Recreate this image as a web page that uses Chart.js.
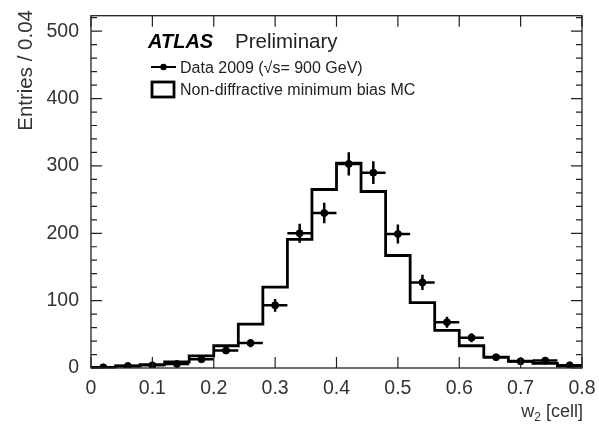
<!DOCTYPE html>
<html>
<head>
<meta charset="utf-8">
<script src="https://cdn.jsdelivr.net/npm/chart.js@4.4.1/dist/chart.umd.min.js"></script>
<style>
  body { margin: 0; background: #fff; }
  #wrap { width: 599px; height: 431px; }
</style>
</head>
<body>
<div id="wrap"><canvas id="chart" width="599" height="431"></canvas></div>
<script>
// bins of width 0.04 from 0 to 0.8
var binEdges = [0, 0.04, 0.08, 0.12, 0.16, 0.20, 0.24, 0.28, 0.32, 0.36, 0.40,
    0.44, 0.48, 0.52, 0.56, 0.60, 0.64, 0.68, 0.72, 0.76, 0.80];
var mcValues = [1, 3, 5, 9, 18, 33, 65, 120, 191, 265, 304,
    262, 167, 97, 56, 33, 16, 10, 7, 3];
var dataCenters = [0.02, 0.06, 0.10, 0.14, 0.18, 0.22, 0.26, 0.30, 0.34, 0.38,
    0.42, 0.46, 0.50, 0.54, 0.58, 0.62, 0.66, 0.70, 0.74, 0.78];
var dataValues = [1, 3, 4, 6, 13, 26, 37, 93, 200, 230,
    303, 290, 199, 127, 68, 45, 16, 10, 11, 4];
var dataErrors = [1, 1.7, 2, 2.4, 3.6, 5.1, 6.1, 9.6, 14.1, 15.2,
    17.4, 17.0, 14.1, 11.3, 8.2, 6.7, 4, 3.2, 3.3, 2];
var yTickLabels = [0, 100, 200, 300, 400, 500];
var xTickLabels = [0, 0.1, 0.2, 0.3, 0.4, 0.5, 0.6, 0.7, 0.8];

// histogram drawn as steps: each edge carries the value of the bin to its right
var mcPoints = binEdges.map(function (e, i) {
    return { x: e, y: i < mcValues.length ? mcValues[i] : mcValues[mcValues.length - 1] };
});
var dataPoints = dataCenters.map(function (c, i) {
    return { x: c, y: dataValues[i] };
});

var fontName = '"Liberation Sans", Arial, sans-serif';

var rootStyle = {
    id: 'rootStyle',
    afterDatasetsDraw: function (chart) {
        var ctx = chart.ctx;
        var xs = chart.scales.x, ys = chart.scales.y;
        var a = chart.chartArea;
        ctx.save();

        // error bars
        ctx.strokeStyle = '#000';
        ctx.lineWidth = 2.5;
        dataCenters.forEach(function (c, i) {
            var px = xs.getPixelForValue(c);
            var py = ys.getPixelForValue(dataValues[i]);
            ctx.beginPath();
            ctx.moveTo(xs.getPixelForValue(c - 0.02), py);
            ctx.lineTo(xs.getPixelForValue(c + 0.02), py);
            ctx.moveTo(px, ys.getPixelForValue(Math.max(0, dataValues[i] - dataErrors[i])));
            ctx.lineTo(px, ys.getPixelForValue(dataValues[i] + dataErrors[i]));
            ctx.stroke();
        });

        // frame
        ctx.strokeStyle = '#222';
        ctx.lineWidth = 1.3;
        ctx.strokeRect(a.left, a.top, a.right - a.left, a.bottom - a.top);

        // inward ticks, y
        ctx.lineWidth = 1.2;
        ctx.beginPath();
        for (var v = 0; v <= 520; v += 20) {
            var y = ys.getPixelForValue(v);
            var len = (v % 100 === 0) ? 11 : 6;
            ctx.moveTo(a.left, y); ctx.lineTo(a.left + len, y);
            ctx.moveTo(a.right, y); ctx.lineTo(a.right - len, y);
        }
        // inward ticks, x
        xTickLabels.forEach(function (xv) {
            var x = xs.getPixelForValue(xv);
            ctx.moveTo(x, a.bottom); ctx.lineTo(x, a.bottom - 11);
            ctx.moveTo(x, a.top); ctx.lineTo(x, a.top + 11);
        });
        ctx.stroke();

        // ATLAS Preliminary
        ctx.fillStyle = '#000';
        ctx.textBaseline = 'alphabetic';
        ctx.font = 'italic bold 20px ' + fontName;
        ctx.fillText('ATLAS', 148, 48);
        ctx.font = '20.5px ' + fontName;
        ctx.fillStyle = '#222';
        ctx.fillText('Preliminary', 235, 48);

        // legend
        ctx.strokeStyle = '#000';
        ctx.fillStyle = '#000';
        ctx.lineWidth = 2;
        ctx.beginPath();
        ctx.moveTo(151, 67); ctx.lineTo(176, 67);
        ctx.stroke();
        ctx.beginPath();
        ctx.arc(163.5, 67, 3.2, 0, Math.PI * 2);
        ctx.fill();
        ctx.font = '16px ' + fontName;
        ctx.fillStyle = '#222';
        ctx.fillText('Data 2009 (\u221As= 900 GeV)', 180, 73);

        ctx.lineWidth = 2.8;
        ctx.strokeRect(152, 82, 22, 15);
        ctx.fillText('Non-diffractive minimum bias MC', 180, 95);

        // axis titles
        ctx.font = '20.5px ' + fontName;
        ctx.fillStyle = '#333';
        ctx.save();
        ctx.translate(32, 10);
        ctx.rotate(-Math.PI / 2);
        ctx.textAlign = 'right';
        ctx.fillText('Entries / 0.04', 0, 0);
        ctx.restore();

        ctx.textAlign = 'right';
        ctx.font = '18px ' + fontName;
        ctx.fillText('[cell]', 583, 417);
        var wCell = ctx.measureText(' [cell]').width;
        ctx.font = '12px ' + fontName;
        var w2 = ctx.measureText('2').width;
        ctx.fillText('2', 583 - wCell, 421);
        ctx.font = '18px ' + fontName;
        ctx.fillText('w', 583 - wCell - w2, 417);

        ctx.restore();
    }
};

var canvas = document.getElementById('chart').getContext('2d');
window.bar = new Chart(canvas, {
    type: 'scatter',
    data: {
        datasets: [{
            label: 'MC',
            type: 'line',
            data: mcPoints,
            stepped: 'before',
            borderColor: '#000',
            borderWidth: 2.8,
            pointRadius: 0,
            fill: false
        }, {
            label: 'Data',
            data: dataPoints,
            backgroundColor: '#000',
            borderColor: '#000',
            pointRadius: 3.5,
            pointHoverRadius: 3.5
        }]
    },
    plugins: [rootStyle],
    options: {
        responsive: false,
        animation: false,
        events: [],
        layout: {
            padding: { left: 0, right: 17, top: 12, bottom: 0 }
        },
        plugins: {
            legend: { display: false },
            tooltip: { enabled: false }
        },
        scales: {
            x: {
                type: 'linear',
                min: 0,
                max: 0.8,
                grid: { display: false },
                border: { display: false },
                afterFit: function (s) { s.height = 63; },
                afterBuildTicks: function (s) {
                    s.ticks = xTickLabels.map(function (v) { return { value: v }; });
                },
                ticks: {
                    color: '#333',
                    padding: 1,
                    maxRotation: 0,
                    autoSkip: false,
                    font: { family: fontName, size: 19.5 },
                    callback: function (v) { return v === 0 ? '0' : v.toFixed(1); }
                }
            },
            y: {
                min: 0,
                max: 523,
                grid: { display: false },
                border: { display: false },
                afterFit: function (s) { s.width = 91; },
                afterBuildTicks: function (s) {
                    s.ticks = yTickLabels.map(function (v) { return { value: v }; });
                },
                ticks: {
                    color: '#333',
                    padding: 4,
                    font: { family: fontName, size: 19.5 }
                }
            }
        }
    }
});
</script>
</body>
</html>
